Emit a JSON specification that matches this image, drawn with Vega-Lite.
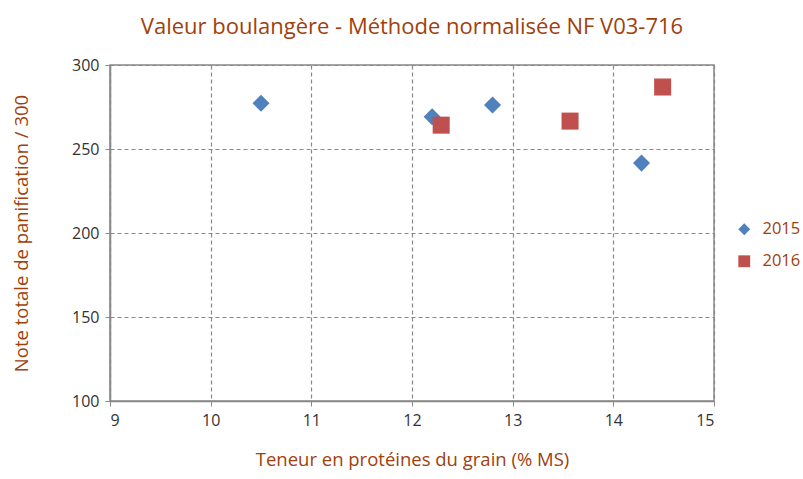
{
  "$schema": "https://vega.github.io/schema/vega-lite/v6.json",
  "width": 604,
  "height": 336,
  "autosize": {"type": "none"},
  "padding": {"left": 110, "top": 65, "right": 89, "bottom": 78},
  "background": "white",
  "title": {
    "text": "Valeur boulangère - Méthode normalisée NF V03-716",
    "font": "Open Sans",
    "fontSize": 22,
    "fontWeight": "normal",
    "color": "#A0410D",
    "anchor": "middle",
    "offset": 18
  },
  "data": {
    "values": [
      {"proteine": 10.5, "note": 277.2, "annee": "2015"},
      {"proteine": 12.2, "note": 269.2, "annee": "2015"},
      {"proteine": 12.8, "note": 276.2, "annee": "2015"},
      {"proteine": 14.28, "note": 241.6, "annee": "2015"},
      {"proteine": 12.29, "note": 264.2, "annee": "2016"},
      {"proteine": 13.57, "note": 266.6, "annee": "2016"},
      {"proteine": 14.49, "note": 286.9, "annee": "2016"}
    ]
  },
  "mark": {"type": "point", "filled": true, "opacity": 1, "size": 290},
  "encoding": {
    "x": {
      "field": "proteine",
      "type": "quantitative",
      "scale": {"domain": [9, 15], "nice": false, "zero": false},
      "axis": {
        "title": "Teneur en protéines du grain (% MS)",
        "values": [9, 10, 11, 12, 13, 14, 15],
        "grid": true,
        "gridDash": [4, 3],
        "gridColor": "#888888",
        "gridWidth": 1.2,
        "domainColor": "#888888",
        "domainWidth": 1.5,
        "tickColor": "#888888",
        "tickSize": 5,
        "labelFont": "Open Sans",
        "labelFontSize": 16,
        "labelColor": "#333333",
        "labelPadding": 6,
        "titleFont": "Open Sans",
        "titleFontSize": 18.5,
        "titleFontWeight": "normal",
        "titleColor": "#A0410D",
        "titlePadding": 22
      }
    },
    "y": {
      "field": "note",
      "type": "quantitative",
      "scale": {"domain": [100, 300], "nice": false, "zero": false},
      "axis": {
        "title": "Note totale de panification / 300",
        "values": [100, 150, 200, 250, 300],
        "grid": true,
        "gridDash": [4, 3],
        "gridColor": "#888888",
        "gridWidth": 1.2,
        "domainColor": "#888888",
        "domainWidth": 1.5,
        "tickColor": "#888888",
        "tickSize": 5,
        "labelFont": "Open Sans",
        "labelFontSize": 16,
        "labelColor": "#333333",
        "labelPadding": 6,
        "titleFont": "Open Sans",
        "titleFontSize": 18.5,
        "titleFontWeight": "normal",
        "titleColor": "#A0410D",
        "titlePadding": 40
      }
    },
    "color": {
      "field": "annee",
      "type": "nominal",
      "scale": {"domain": ["2015", "2016"], "range": ["#4F81BD", "#C0504D"]},
      "legend": {
        "title": null,
        "orient": "none",
        "legendX": 626,
        "legendY": 156,
        "symbolSize": 140,
        "labelFont": "Open Sans",
        "labelFontSize": 16.5,
        "labelColor": "#A0410D",
        "rowPadding": 15,
        "labelOffset": 10
      }
    },
    "shape": {
      "field": "annee",
      "type": "nominal",
      "scale": {"domain": ["2015", "2016"], "range": ["diamond", "square"]},
      "legend": {
        "title": null,
        "orient": "none",
        "legendX": 626,
        "legendY": 156,
        "symbolSize": 140,
        "labelFont": "Open Sans",
        "labelFontSize": 16.5,
        "labelColor": "#A0410D",
        "rowPadding": 15,
        "labelOffset": 10
      }
    }
  },
  "config": {
    "view": {"stroke": "#888888", "strokeWidth": 1.5}
  }
}
